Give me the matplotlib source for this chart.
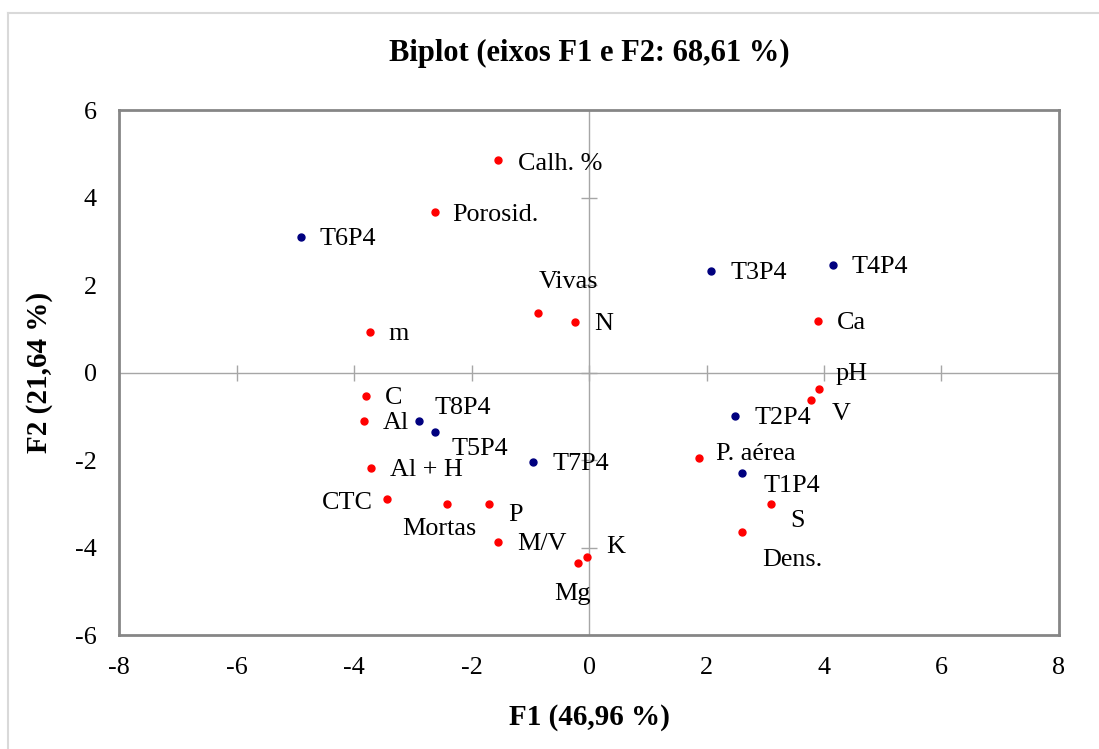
import matplotlib.pyplot as plt

plt.rcParams['font.family'] = ['Liberation Serif', 'DejaVu Serif']
plt.rcParams['axes.unicode_minus'] = False

# variables (red) and treatments (blue) on F1/F2
var_names = ['Calh. %', 'Porosid.', 'm', 'Vivas', 'N', 'Ca', 'pH', 'V',
             'P. aérea', 'S', 'Dens.', 'K', 'Mg', 'C', 'Al', 'Al + H',
             'CTC', 'Mortas', 'P', 'M/V']
var_f1 = [-1.55, -2.63, -3.73, -0.86, -0.23, 3.90, 3.92, 3.78,
          1.87, 3.09, 2.61, -0.03, -0.18, -3.79, -3.83, -3.71,
          -3.44, -2.42, -1.70, -1.55]
var_f2 = [4.86, 3.66, 0.92, 1.36, 1.15, 1.17, -0.37, -0.62,
          -1.96, -3.01, -3.64, -4.21, -4.35, -0.53, -1.10, -2.18,
          -2.88, -3.01, -3.01, -3.88]

obs_names = ['T6P4', 'T3P4', 'T4P4', 'T2P4', 'T1P4', 'T8P4', 'T5P4', 'T7P4']
obs_f1 = [-4.91, 2.08, 4.15, 2.49, 2.61, -2.90, -2.63, -0.95]
obs_f2 = [3.09, 2.32, 2.46, -1.00, -2.30, -1.10, -1.35, -2.05]

xticks = [-8, -6, -4, -2, 0, 2, 4, 6, 8]
yticks = [-6, -4, -2, 0, 2, 4, 6]

# label placement: (dx, dy) in pixels, horizontal alignment
default_off = (19, 0, 'left')
label_off = {
    'Calh. %': (20, 2, 'left'),
    'Porosid.': (18, 1, 'left'),
    'Vivas': (0, -33, 'left'),
    'pH': (16, -17, 'left'),
    'V': (21, 12, 'left'),
    'P. aérea': (17, -6, 'left'),
    'T1P4': (21, 11, 'left'),
    'S': (20, 15, 'left'),
    'Dens.': (20, 26, 'left'),
    'K': (19, -12, 'left'),
    'Mg': (-6, 29, 'center'),
    'T8P4': (16, -15, 'left'),
    'T5P4': (17, 15, 'left'),
    'CTC': (-14, 2, 'right'),
    'Mortas': (-8, 23, 'center'),
    'P': (19, 9, 'left'),
}

fig = plt.figure(figsize=(10.99, 7.49), dpi=100)
ax = fig.add_axes([0.1083, 0.1522, 0.8553, 0.7009])

# outer chart border
fig.add_artist(plt.Line2D([8 / 1099, 8 / 1099], [0, 1 - 13 / 749],
                          color='#d9d9d9', lw=1.5))
fig.add_artist(plt.Line2D([8 / 1099, 1], [1 - 13 / 749, 1 - 13 / 749],
                          color='#d9d9d9', lw=1.5))

ax.axhline(0, color='#a6a6a6', lw=1.0, zorder=1)
ax.axvline(0, color='#a6a6a6', lw=1.0, zorder=1)
ax.plot(xticks[1:-1], [0] * (len(xticks) - 2), ls='none', marker='|',
        ms=12, mew=1.0, color='#a6a6a6', zorder=1)
ax.plot([0] * (len(yticks) - 2), yticks[1:-1], ls='none', marker='_',
        ms=12, mew=1.0, color='#a6a6a6', zorder=1)

ax.plot(var_f1, var_f2, ls='none', marker='o', ms=5, color='#ff0000', zorder=3)
ax.plot(obs_f1, obs_f2, ls='none', marker='o', ms=5, color='#00007f', zorder=3)

for names, xs, ys in [(var_names, var_f1, var_f2), (obs_names, obs_f1, obs_f2)]:
    for n, x, y in zip(names, xs, ys):
        dx, dy, ha = label_off.get(n, default_off)
        ax.annotate(n, (x, y), xytext=(dx, -dy - 2), textcoords='offset pixels',
                    ha=ha, va='center', fontsize=18.8, color='#000000')

ax.set_xlim(-8, 8)
ax.set_ylim(-6, 6)
ax.set_xticks(xticks)
ax.set_yticks(yticks)
ax.tick_params(length=0, labelsize=18.8, pad=16)
ax.tick_params(axis='y', pad=16)
for s in ax.spines.values():
    s.set_color('#868686')
    s.set_linewidth(2)

ax.set_title('Biplot (eixos F1 e F2: 68,61 %)', fontsize=22, fontweight='bold',
             pad=35)
ax.set_xlabel('F1 (46,96 %)', fontsize=21, fontweight='bold', labelpad=18)
ax.set_ylabel('F2 (21,64 %)', fontsize=21, fontweight='bold', labelpad=16)

fig.savefig('out.png', dpi=100)
